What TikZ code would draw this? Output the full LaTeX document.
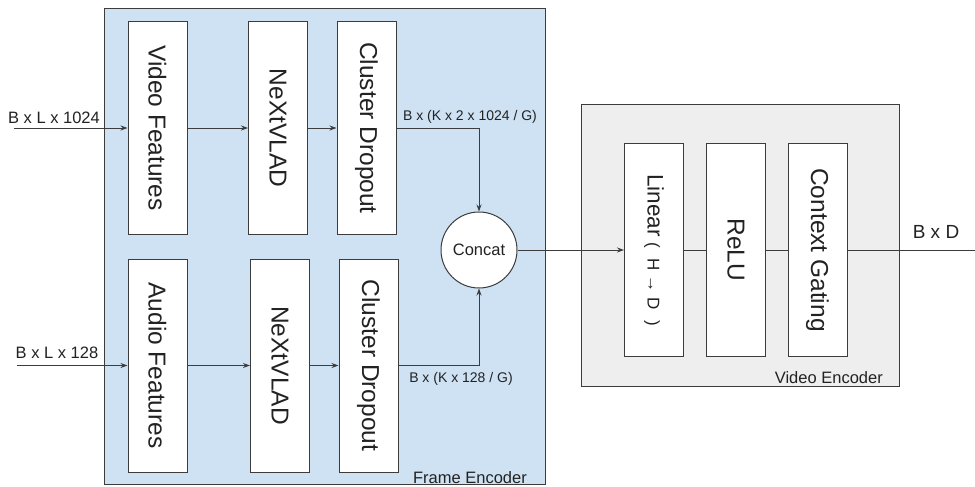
\documentclass[tikz,border=0pt]{standalone}
\usepackage{fontspec}
\setmainfont{Liberation Sans}
\usetikzlibrary{arrows.meta}

\definecolor{framebg}{HTML}{CFE2F3}
\definecolor{videobg}{HTML}{EEEEEE}
\definecolor{edge}{HTML}{3C3C3C}
\definecolor{ink}{HTML}{222222}

\newcommand{\fs}[1]{\fontsize{#1}{#1}\selectfont}

\tikzset{
  panel/.style={draw=edge, line width=1pt},
  blk/.style={draw=edge, fill=white, line width=1pt, inner sep=0pt,
              minimum width=59pt, text=ink, font=\fs{24.5}},
  joiner/.style={draw=edge, fill=white, circle, line width=1pt, inner sep=0pt,
                 minimum size=76pt, text=ink, font=\fs{16.5}},
  tag/.style={text=ink, inner sep=0pt, font=\fs{16.5}},
  smalltag/.style={text=ink, inner sep=0pt, font=\fs{14}},
  wire/.style={draw=edge, line width=0.9pt},
  arr/.style={wire, -{Stealth[length=7pt,width=5pt]}},
}

\begin{document}
\begin{tikzpicture}[x=1pt,y=-1pt]
  \useasboundingbox (0,0) rectangle (975,487);

  % encoder panels
  \draw[panel, fill=framebg] (104,9) rectangle (545,484);
  \draw[panel, fill=videobg] (581,104) rectangle (899,386);
  \node[tag, anchor=south east] (fel) at (527,484) {Frame Encoder};
  \node[tag, anchor=south east] (vel) at (883,384) {Video Encoder};

  % video branch
  \node[blk, minimum height=212pt] (vf) at (157.5,128) {\rotatebox{-90}{Video Features}};
  \node[blk, minimum height=212pt] (nx1) at (278,128) {\rotatebox{-90}{NeXtVLAD}};
  \node[blk, minimum height=212pt] (cd1) at (366.5,128) {\rotatebox{-90}{Cluster Dropout}};

  % audio branch
  \node[blk, minimum height=213pt] (af) at (157.5,365.5) {\rotatebox{-90}{Audio Features}};
  \node[blk, minimum height=213pt] (nx2) at (280,365.5) {\rotatebox{-90}{NeXtVLAD}};
  \node[blk, minimum height=213pt] (cd2) at (368.5,365.5) {\rotatebox{-90}{Cluster Dropout}};

  % fusion
  \node[joiner] (cc) at (479,250) {Concat};

  % video encoder stack
  \node[blk, minimum height=213pt] (lin) at (654,250)
    {\rotatebox{-90}{\fs{22.5}Linear\hspace{0.25em}{\fs{17}(\hspace{0.6em}H\hspace{0.3em}→\hspace{0.3em}D\hspace{0.6em})}}};
  \node[blk, minimum height=213pt] (relu) at (736,250) {\rotatebox{-90}{ReLU}};
  \node[blk, minimum height=213pt] (cg) at (817.5,250) {\rotatebox{-90}{Context Gating}};

  % free ends
  \coordinate (in1) at (14,128);
  \coordinate (in2) at (17,365.5);
  \coordinate (out) at (975,250);

  % labels
  \node[tag] (l1) at (54,118) {B x L x 1024};
  \node[tag] (l2) at (57,353) {B x L x 128};
  \node[smalltag] (l3) at (470,117) {B x (K x 2 x 1024 / G)};
  \node[smalltag] (l4) at (461,379) {B x (K x 128 / G)};
  \node[tag, font=\fs{19}] (l5) at (936,232) {B x D};

  % connectors
  \draw[arr] (in1) -- (vf);
  \draw[arr] (vf) -- (vf -| nx1.west);
  \draw[arr] (nx1) -- (nx1 -| cd1.west);
  \draw[arr] (cd1) -| (cc);

  \draw[arr] (in2) -- (af);
  \draw[arr] (af) -- (af -| nx2.west);
  \draw[arr] (nx2) -- (nx2 -| cd2.west);
  \draw[arr] (cd2) -| (cc);

  \draw[arr] (cc) -- (lin);
  \draw[wire] (lin) -- (relu);
  \draw[wire] (relu) -- (cg);
  \draw[wire] (cg) -- (out);
\end{tikzpicture}
\end{document}
